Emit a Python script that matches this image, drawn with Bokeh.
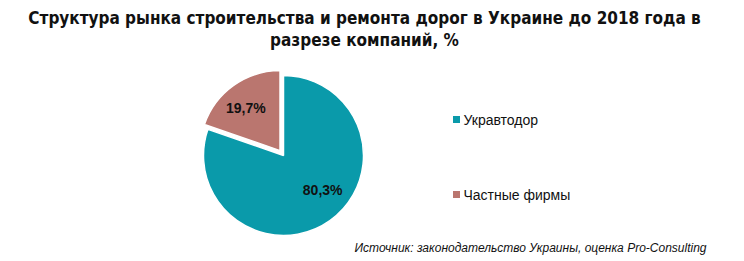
import math
from bokeh.plotting import figure
from bokeh.models import Range1d, ColumnDataSource
from bokeh.core.properties import value
from bokeh.embed import file_html
from bokeh.resources import INLINE

title_lines = ["Структура рынка строительства и ремонта дорог в Украине до 2018 года в",
               "разрезе компаний, %"]
categories = ["Укравтодор", "Частные фирмы"]
shares = [80.3, 19.7]
share_labels = ["80,3%", "19,7%"]
colors = ["#0A9AAA", "#BA766F"]
source_text = "Источник: законодательство Украины, оценка Pro-Consulting"

W, H = 744, 261
p = figure(width=W, height=H, output_backend="svg", toolbar_location=None,
           x_range=Range1d(0, W), y_range=Range1d(0, H), min_border=0)
p.axis.visible = False
p.grid.visible = False
p.outline_line_color = None
p.background_fill_color = "white"

def Y(y):
    return H - y

cx, cy, r = 283, Y(155), 80
explode = [0, 6]
label_shift = [(9, -8), (-4, 0)]
total = sum(shares)
start = math.pi / 2
xs, ys, sa, ea, lx, ly, dx, dy = [], [], [], [], [], [], [], []
for i, v in enumerate(shares):
    span = 2 * math.pi * v / total
    end = start - span
    mid = (start + end) / 2
    ox = cx + explode[i] * math.cos(mid)
    oy = cy + explode[i] * math.sin(mid)
    xs.append(ox); ys.append(oy); sa.append(start); ea.append(end)
    lr = r * 0.65
    lx.append(ox + lr * math.cos(mid)); ly.append(oy + lr * math.sin(mid))
    dx.append(label_shift[i][0]); dy.append(label_shift[i][1])
    start = end

src = ColumnDataSource(dict(x=xs, y=ys, sa=sa, ea=ea, color=colors, lx=lx, ly=ly,
                            dx=dx, dy=dy, lab=share_labels))
p.wedge(x="x", y="y", radius=r, start_angle="sa", end_angle="ea", direction="clock",
        fill_color="color", line_color="white", line_width=1.5, source=src)
p.text(x="lx", y="ly", x_offset="dx", y_offset="dy", text="lab", source=src,
       text_font=value("Liberation Sans"),
       text_font_size="14px", text_font_style="bold", text_align="center",
       text_baseline="middle", text_color="#111111")

# legend
leg_y = [Y(119), Y(194)]
p.scatter(x=[456, 456], y=leg_y, marker="square", size=7, fill_color=colors, line_color=None)
p.text(x=[463, 463], y=leg_y, text=categories, text_font=value("Liberation Sans"),
       text_font_size="14px", text_baseline="middle", text_color="#111111")

# title
p.text(x=[364, 364], y=[Y(17), Y(39)], text=title_lines,
       text_font=value("DejaVu Sans Condensed"), text_font_size="17px",
       text_font_style="bold", text_align="center", text_baseline="middle",
       text_color="#111111")

# source
p.text(x=[706], y=[Y(247)], text=[source_text], text_font=value("Liberation Sans"),
       text_font_size="12px", text_font_style="italic", text_align="right",
       text_baseline="middle", text_color="#111111")

open("out.html", "w").write(file_html(p, INLINE))
